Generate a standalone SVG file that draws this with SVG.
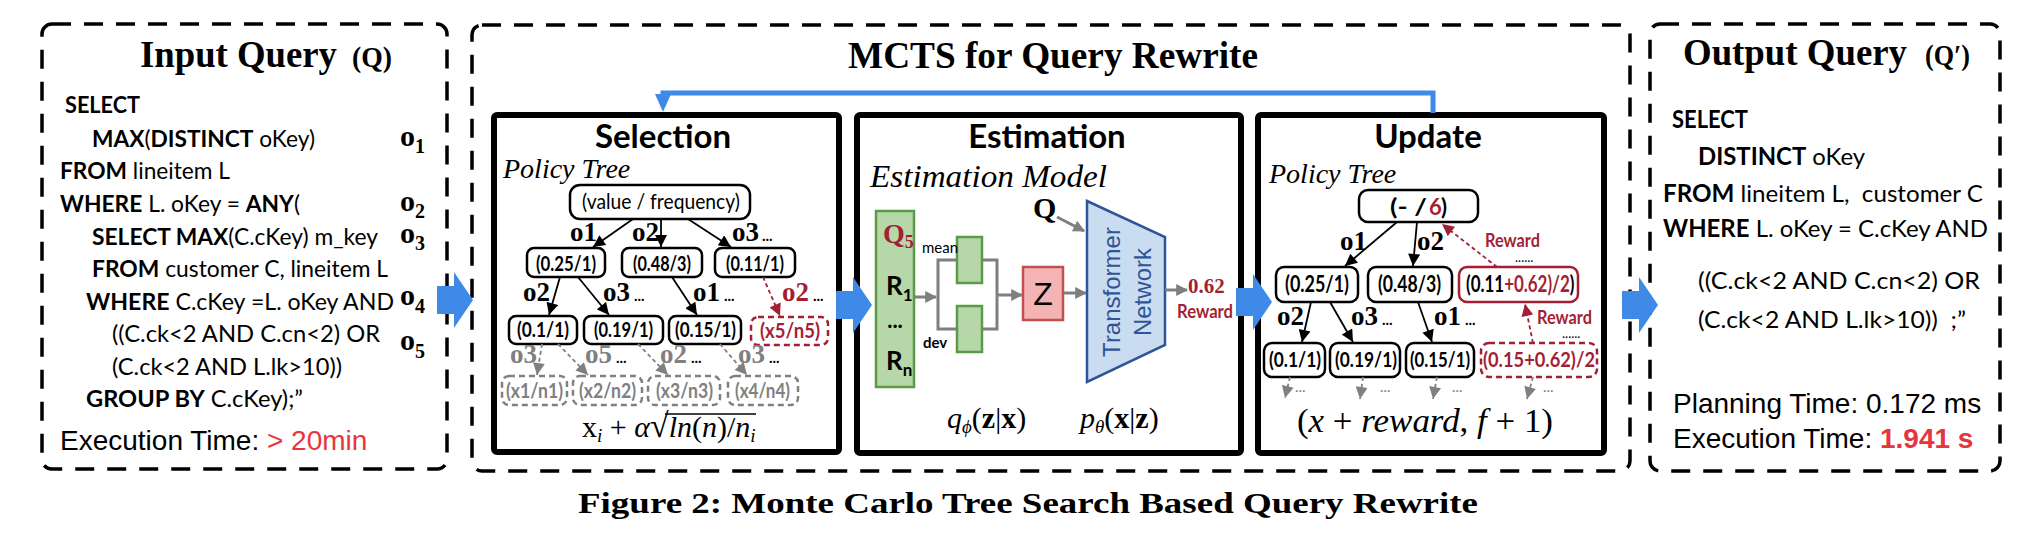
<svg xmlns="http://www.w3.org/2000/svg" width="2040" height="538" viewBox="0 0 2040 538">
<defs>
<style>
.dash{fill:none;stroke:#000;stroke-width:3.5;stroke-dasharray:19 13}
.panel{fill:#fff;stroke:#000;stroke-width:6}
.sql{font-family:Lato,"Open Sans",sans-serif;font-size:23px;fill:#000;white-space:pre}
.sqo{font-family:Lato,"Open Sans",sans-serif;font-size:24px;fill:#000;white-space:pre}
.b{font-weight:bold}
.ttl{font-family:"Liberation Serif",serif;font-weight:bold;font-size:38px}
.ol{font-family:"Liberation Serif",serif;font-weight:bold;font-size:30px}
.sub{font-size:20px}
.ph{font-family:Lato,sans-serif;font-weight:bold;font-size:33px;text-anchor:middle}
.it{font-family:"Liberation Serif",serif;font-style:italic;font-size:28px}
.node{fill:#fff;stroke:#000;stroke-width:2.5}
.rnode{fill:#fff;stroke:#a31f34;stroke-width:2.5}
.rdnode{fill:#fff;stroke:#a31f34;stroke-width:2.5;stroke-dasharray:6 4}
.gnode{fill:#fff;stroke:#808080;stroke-width:2.5;stroke-dasharray:6 4}
.nt{font-family:Lato,sans-serif;font-weight:bold;font-size:21px}
.lab{font-family:"Liberation Serif",serif;font-weight:bold;font-size:27px}
.dots{font-family:Lato,sans-serif;font-size:15px}
.rw{font-family:Lato,sans-serif;font-weight:bold;font-size:18px;fill:#a31f34}
.e{stroke:#000;stroke-width:1.8;fill:none;marker-end:url(#ah)}
.ge{stroke:#808080;stroke-width:1.8;fill:none;stroke-dasharray:4 3;marker-end:url(#ahg)}
.re{stroke:#a31f34;stroke-width:1.8;fill:none;stroke-dasharray:4 3;marker-end:url(#ahr)}
.gc{stroke:#7f7f7f;stroke-width:3;fill:none}
.gca{stroke:#7f7f7f;stroke-width:3;fill:none;marker-end:url(#ahgb)}
.red{fill:#a31f34}
.gray{fill:#808080}
.blk{fill:#3f8ae6}
.math{font-family:"Liberation Serif",serif;font-size:30px}
.tm{font-family:"Liberation Sans",Arial,sans-serif;font-size:28px}
</style>
<marker id="ah" viewBox="0 0 10 10" refX="10" refY="5" markerUnits="userSpaceOnUse" markerWidth="13" markerHeight="12" orient="auto"><path d="M0,0 L10,5 L0,10 z" fill="#000"/></marker>
<marker id="ahg" viewBox="0 0 10 10" refX="10" refY="5" markerUnits="userSpaceOnUse" markerWidth="13" markerHeight="12" orient="auto"><path d="M0,0 L10,5 L0,10 z" fill="#808080"/></marker>
<marker id="ahr" viewBox="0 0 10 10" refX="10" refY="5" markerUnits="userSpaceOnUse" markerWidth="13" markerHeight="12" orient="auto"><path d="M0,0 L10,5 L0,10 z" fill="#a31f34"/></marker>
<marker id="ahgb" viewBox="0 0 10 10" refX="9" refY="5" markerUnits="userSpaceOnUse" markerWidth="12" markerHeight="12" orient="auto"><path d="M0,0 L10,5 L0,10 z" fill="#7f7f7f"/></marker>
<path id="bigarrow" d="M0,-14 L17,-14 L17,-28 L36,0 L17,28 L17,14 L0,14 z"/>
</defs>
<rect width="2040" height="538" fill="#fff"/>

<!-- Input query -->
<g id="input-query">
<rect class="dash" x="42" y="24" width="405" height="445" rx="10"/>
<text class="ttl" x="140" y="67" textLength="197" lengthAdjust="spacingAndGlyphs">Input Query</text>
<text class="ttl" x="352" y="67" style="font-size:30px" textLength="40" lengthAdjust="spacingAndGlyphs">(Q)</text>
<text class="sql" x="65" y="113" textLength="75" lengthAdjust="spacingAndGlyphs"><tspan class="b">SELECT</tspan></text>
<text class="sql" x="92" y="147" textLength="223" lengthAdjust="spacingAndGlyphs"><tspan class="b">MAX</tspan>(<tspan class="b">DISTINCT</tspan> oKey)</text>
<text class="sql" x="60" y="179" textLength="170" lengthAdjust="spacingAndGlyphs"><tspan class="b">FROM</tspan> lineitem L</text>
<text class="sql" x="60" y="212" textLength="240" lengthAdjust="spacingAndGlyphs"><tspan class="b">WHERE</tspan> L. oKey = <tspan class="b">ANY</tspan>(</text>
<text class="sql" x="92" y="245" textLength="286" lengthAdjust="spacingAndGlyphs"><tspan class="b">SELECT MAX</tspan>(C.cKey) m_key</text>
<text class="sql" x="92" y="277" textLength="296" lengthAdjust="spacingAndGlyphs"><tspan class="b">FROM</tspan> customer C, lineitem L</text>
<text class="sql" x="86" y="310" textLength="308" lengthAdjust="spacingAndGlyphs"><tspan class="b">WHERE</tspan> C.cKey =L. oKey AND</text>
<text class="sql" x="112" y="342" textLength="268" lengthAdjust="spacingAndGlyphs">((C.ck&lt;2 AND C.cn&lt;2) OR</text>
<text class="sql" x="112" y="375" textLength="230" lengthAdjust="spacingAndGlyphs">(C.ck&lt;2 AND L.lk&gt;10))</text>
<text class="sql" x="86" y="407" textLength="217" lengthAdjust="spacingAndGlyphs"><tspan class="b">GROUP BY</tspan> C.cKey);”</text>
<text class="ol" x="400" y="146">o<tspan class="sub" dy="7">1</tspan></text>
<text class="ol" x="400" y="211">o<tspan class="sub" dy="7">2</tspan></text>
<text class="ol" x="400" y="243">o<tspan class="sub" dy="7">3</tspan></text>
<text class="ol" x="400" y="305">o<tspan class="sub" dy="8">4</tspan></text>
<text class="ol" x="400" y="350">o<tspan class="sub" dy="8">5</tspan></text>
<text class="tm" x="60" y="450">Execution Time: <tspan fill="#e8353d">&gt; 20min</tspan></text>
</g>

<!-- MCTS container -->
<g id="mcts">
<rect class="dash" x="472" y="25" width="1158" height="446" rx="10"/>
<text class="ttl" x="848" y="68" textLength="410" lengthAdjust="spacingAndGlyphs">MCTS for Query Rewrite</text>
</g>

<!-- Selection -->
<g id="selection">
<rect class="panel" x="494" y="115" width="345" height="337" rx="3"/>
<text class="ph" x="663" y="148">Selection</text>
<text class="it" x="503" y="178">Policy Tree</text>
<rect class="node" x="570" y="185" width="180" height="34" rx="10"/>
<text x="582" y="209" style="font-family:Lato,sans-serif;font-size:22px" textLength="158" lengthAdjust="spacingAndGlyphs">(value / frequency)</text>
<rect class="node" x="527" y="248" width="78" height="29" rx="7"/>
<text class="nt" x="536" y="271" textLength="60" lengthAdjust="spacingAndGlyphs">(0.25/1)</text>
<rect class="node" x="622" y="248" width="80" height="29" rx="7"/>
<text class="nt" x="633" y="271" textLength="58" lengthAdjust="spacingAndGlyphs">(0.48/3)</text>
<rect class="node" x="715" y="248" width="80" height="29" rx="7"/>
<text class="nt" x="726" y="271" textLength="58" lengthAdjust="spacingAndGlyphs">(0.11/1)</text>
<rect class="node" x="509" y="316" width="68" height="28" rx="7"/>
<text class="nt" x="517" y="337" textLength="52" lengthAdjust="spacingAndGlyphs">(0.1/1)</text>
<rect class="node" x="584" y="316" width="79" height="28" rx="7"/>
<text class="nt" x="594" y="337" textLength="59" lengthAdjust="spacingAndGlyphs">(0.19/1)</text>
<rect class="node" x="669" y="316" width="72" height="28" rx="7"/>
<text class="nt" x="675" y="337" textLength="61" lengthAdjust="spacingAndGlyphs">(0.15/1)</text>
<rect class="rdnode" x="751" y="317" width="77" height="28" rx="7"/>
<text class="nt red" x="760" y="338" textLength="60" lengthAdjust="spacingAndGlyphs">(x5/n5)</text>
<rect class="gnode" x="502" y="376" width="65" height="29" rx="7"/>
<text class="nt gray" x="506" y="398" textLength="57" lengthAdjust="spacingAndGlyphs">(x1/n1)</text>
<rect class="gnode" x="573" y="376" width="69" height="29" rx="7"/>
<text class="nt gray" x="579" y="398" textLength="57" lengthAdjust="spacingAndGlyphs">(x2/n2)</text>
<rect class="gnode" x="648" y="376" width="72" height="29" rx="7"/>
<text class="nt gray" x="656" y="398" textLength="57" lengthAdjust="spacingAndGlyphs">(x3/n3)</text>
<rect class="gnode" x="728" y="376" width="70" height="29" rx="7"/>
<text class="nt gray" x="735" y="398" textLength="55" lengthAdjust="spacingAndGlyphs">(x4/n4)</text>
<text class="lab" x="570" y="241">o1</text>
<text class="lab" x="632" y="241">o2</text>
<text class="lab" x="732" y="241">o3<tspan class="dots" dx="3">...</tspan></text>
<text class="lab" x="523" y="301">o2</text>
<text class="lab" x="603" y="301">o3<tspan class="dots" dx="4">...</tspan></text>
<text class="lab" x="693" y="301">o1<tspan class="dots" dx="4">...</tspan></text>
<text class="lab red" x="782" y="301">o2<tspan class="dots" dx="4" fill="#000">...</tspan></text>
<text class="lab gray" x="510" y="363">o3</text>
<text class="lab gray" x="585" y="363">o5<tspan class="dots" dx="4" fill="#000">...</tspan></text>
<text class="lab gray" x="660" y="363">o2<tspan class="dots" dx="4" fill="#000">...</tspan></text>
<text class="lab gray" x="738" y="363">o3<tspan class="dots" dx="4" fill="#000">...</tspan></text>
<text class="math" x="582" y="437">x<tspan font-size="19" dy="5" font-style="italic">i</tspan><tspan dy="-5"> + </tspan><tspan font-style="italic">α</tspan><tspan font-size="34">√</tspan><tspan font-style="italic">ln</tspan>(<tspan font-style="italic">n</tspan>)/<tspan font-style="italic">n</tspan><tspan font-size="19" dy="5" font-style="italic">i</tspan></text>
<line x1="665" y1="414" x2="756" y2="414" stroke="#000" stroke-width="1.5"/>
</g>

<!-- Estimation -->
<g id="estimation">
<rect class="panel" x="857" y="115" width="384" height="338" rx="3"/>
<text class="ph" x="1047" y="148">Estimation</text>
<text class="it" x="870" y="187" textLength="237" lengthAdjust="spacingAndGlyphs" style="font-size:31px">Estimation Model</text>
<rect x="876" y="211" width="38" height="176" fill="#b6d7a8" stroke="#5b9a47" stroke-width="2.5"/>
<text x="883" y="243" style="font-family:'Liberation Serif',serif;font-weight:bold;font-size:28px" fill="#a31f34">Q<tspan font-size="18" dy="5">5</tspan></text>
<text x="886" y="295" style="font-family:Lato,sans-serif;font-weight:bold;font-size:26px">R<tspan font-size="17" dy="6">1</tspan></text>
<text x="895" y="328" style="font-family:Lato,sans-serif;font-weight:bold;font-size:22px;text-anchor:middle">...</text>
<text x="886" y="370" style="font-family:Lato,sans-serif;font-weight:bold;font-size:26px">R<tspan font-size="17" dy="6">n</tspan></text>
<rect x="957" y="237" width="25" height="46" fill="#b6d7a8" stroke="#5b9a47" stroke-width="2.5"/>
<rect x="957" y="306" width="25" height="46" fill="#b6d7a8" stroke="#5b9a47" stroke-width="2.5"/>
<text x="922" y="253" style="font-family:Lato,sans-serif;font-size:15px">mean</text>
<text x="923" y="348" style="font-family:Lato,sans-serif;font-weight:bold;font-size:15px">dev</text>
<rect x="1023" y="267" width="40" height="53" fill="#f4b4b4" stroke="#c0504d" stroke-width="2.5"/>
<text x="1043" y="305" style="font-family:'Liberation Sans',sans-serif;font-size:32px;text-anchor:middle">Z</text>
<path d="M1087,201 L1165,237 L1165,345 L1087,382 z" fill="#cadcf0" stroke="#2e5597" stroke-width="2.5"/>
<text transform="translate(1120,292) rotate(-90)" style="font-family:'Liberation Sans',sans-serif;font-size:24px;text-anchor:middle" fill="#2e5597">Transformer</text>
<text transform="translate(1151,292) rotate(-90)" style="font-family:'Liberation Sans',sans-serif;font-size:24px;text-anchor:middle" fill="#2e5597">Network</text>
<text x="1033" y="218" style="font-family:'Liberation Serif',serif;font-weight:bold;font-size:30px">Q</text>
<text x="1188" y="293" style="font-family:'Liberation Serif',serif;font-weight:bold;font-size:21px" fill="#a31f34">0.62</text>
<text class="rw" x="1177" y="318" textLength="56" lengthAdjust="spacingAndGlyphs">Reward</text>
<text class="math" x="947" y="428"><tspan font-style="italic">q</tspan><tspan font-size="19" dy="5" font-style="italic">ϕ</tspan><tspan dy="-5">(</tspan><tspan font-weight="bold">z</tspan>|<tspan font-weight="bold">x</tspan>)</text>
<text class="math" x="1080" y="428"><tspan font-style="italic">p</tspan><tspan font-size="19" dy="5" font-style="italic">θ</tspan><tspan dy="-5">(</tspan><tspan font-weight="bold">x</tspan>|<tspan font-weight="bold">z</tspan>)</text>
</g>

<!-- Update -->
<g id="update">
<rect class="panel" x="1258" y="115" width="346" height="338" rx="3"/>
<text class="ph" x="1428" y="148">Update</text>
<text class="it" x="1269" y="183">Policy Tree</text>
<rect class="node" x="1359" y="190" width="119" height="32" rx="9"/>
<text class="nt" x="1390" y="215" style="font-size:22px" textLength="37" lengthAdjust="spacingAndGlyphs">(- / </text>
<text class="nt red" x="1429" y="215" style="font-size:22px">6</text>
<text class="nt" x="1441" y="215" style="font-size:22px">)</text>
<rect class="node" x="1276" y="267" width="82" height="35" rx="8"/>
<text class="nt" x="1285" y="292" style="font-size:22px" textLength="64" lengthAdjust="spacingAndGlyphs">(0.25/1)</text>
<rect class="node" x="1368" y="267" width="84" height="35" rx="8"/>
<text class="nt" x="1378" y="292" style="font-size:22px" textLength="63" lengthAdjust="spacingAndGlyphs">(0.48/3)</text>
<rect class="rnode" x="1459" y="267" width="119" height="35" rx="8"/>
<text class="nt" transform="matrix(0.77 0 0 1 1466 292)" style="font-size:22px">(0.11<tspan fill="#a31f34">+0.62)/2</tspan>)</text>
<rect class="node" x="1264" y="343" width="61" height="34" rx="8"/>
<text class="nt" x="1269" y="367" textLength="52" lengthAdjust="spacingAndGlyphs">(0.1/1)</text>
<rect class="node" x="1330" y="343" width="70" height="34" rx="8"/>
<text class="nt" x="1335" y="367" textLength="62" lengthAdjust="spacingAndGlyphs">(0.19/1)</text>
<rect class="node" x="1406" y="343" width="68" height="34" rx="8"/>
<text class="nt" x="1410" y="367" textLength="60" lengthAdjust="spacingAndGlyphs">(0.15/1)</text>
<rect class="rdnode" x="1481" y="343" width="116" height="34" rx="8"/>
<text class="nt red" x="1483" y="367" textLength="112" lengthAdjust="spacingAndGlyphs">(0.15+0.62)/2</text>
<text class="lab" x="1340" y="250">o1</text>
<text class="lab" x="1417" y="250">o2</text>
<text class="rw" x="1485" y="247" textLength="55" lengthAdjust="spacingAndGlyphs">Reward</text>
<text class="dots" x="1515" y="262" style="font-size:13px">......</text>
<text class="lab" x="1277" y="325">o2</text>
<text class="lab" x="1351" y="325">o3<tspan class="dots" dx="4">...</tspan></text>
<text class="lab" x="1434" y="325">o1<tspan class="dots" dx="4">...</tspan></text>
<text class="rw" x="1537" y="324" textLength="55" lengthAdjust="spacingAndGlyphs">Reward</text>
<text class="dots" x="1562" y="338" style="font-size:13px">......</text>
<text class="dots gray" x="1295" y="392">...</text>
<text class="dots gray" x="1380" y="392">...</text>
<text class="dots gray" x="1452" y="392">...</text>
<text class="dots gray" x="1543" y="392">...</text>
<text class="math" x="1297" y="432" style="font-size:34px" textLength="256" lengthAdjust="spacingAndGlyphs">(<tspan font-style="italic">x</tspan> + <tspan font-style="italic">reward</tspan>, <tspan font-style="italic">f</tspan> + 1)</text>
</g>

<!-- Output query -->
<g id="output-query">
<rect class="dash" x="1650" y="24" width="350" height="447" rx="10"/>
<text class="ttl" x="1683" y="65" textLength="224" lengthAdjust="spacingAndGlyphs">Output Query</text>
<text class="ttl" x="1925" y="65" style="font-size:30px" textLength="45" lengthAdjust="spacingAndGlyphs">(Q′)</text>
<text class="sqo" x="1672" y="128" textLength="76" lengthAdjust="spacingAndGlyphs"><tspan class="b">SELECT</tspan></text>
<text class="sqo" x="1698" y="165" textLength="167" lengthAdjust="spacingAndGlyphs"><tspan class="b">DISTINCT</tspan> oKey</text>
<text class="sqo" x="1663" y="202" textLength="320" lengthAdjust="spacingAndGlyphs"><tspan class="b">FROM</tspan> lineitem L,  customer C</text>
<text class="sqo" x="1663" y="237" textLength="325" lengthAdjust="spacingAndGlyphs"><tspan class="b">WHERE</tspan> L. oKey = C.cKey AND</text>
<text class="sqo" x="1698" y="289" textLength="282" lengthAdjust="spacingAndGlyphs">((C.ck&lt;2 AND C.cn&lt;2) OR</text>
<text class="sqo" x="1698" y="328" textLength="268" lengthAdjust="spacingAndGlyphs">(C.ck&lt;2 AND L.lk&gt;10))  ;”</text>
<text class="tm" x="1673" y="413">Planning Time: 0.172 ms</text>
<text class="tm" x="1673" y="448">Execution Time: <tspan font-weight="bold" fill="#e8353d">1.941 s</tspan></text>
</g>

<!-- Connectors -->
<g id="connectors">
<use href="#bigarrow" class="blk" x="437" y="300"/>
<use href="#bigarrow" class="blk" x="836" y="305"/>
<use href="#bigarrow" class="blk" x="1236" y="302"/>
<use href="#bigarrow" class="blk" x="1622" y="305"/>
<path d="M1433,113 V93 H663 V97" stroke="#3f8ae6" stroke-width="5" fill="none"/>
<polygon points="655,94 671,94 663,112" fill="#3f8ae6"/>
<!-- selection tree -->
<line class="e" x1="633" y1="219" x2="593" y2="247"/>
<line class="e" x1="661" y1="219" x2="661" y2="247"/>
<line class="e" x1="688" y1="219" x2="731" y2="247"/>
<line class="e" x1="560" y1="277" x2="549" y2="315"/>
<line class="e" x1="578" y1="277" x2="609" y2="315"/>
<line class="e" x1="672" y1="277" x2="697" y2="315"/>
<line class="re" x1="763" y1="277" x2="780" y2="316"/>
<line class="ge" x1="542" y1="344" x2="537" y2="375"/>
<line class="ge" x1="558" y1="344" x2="588" y2="375"/>
<line class="ge" x1="638" y1="344" x2="668" y2="375"/>
<line class="ge" x1="720" y1="344" x2="747" y2="375"/>
<!-- estimation -->
<line class="gca" x1="915" y1="297" x2="936" y2="297"/>
<path class="gc" d="M957,260 H938 V329 H957"/>
<path class="gc" d="M982,260 H997 V329 H982"/>
<line class="gca" x1="997" y1="295" x2="1022" y2="295"/>
<line class="gca" x1="1063" y1="293" x2="1086" y2="293"/>
<line class="gca" x1="1057" y1="217" x2="1084" y2="231"/>
<line class="gca" x1="1165" y1="290" x2="1187" y2="290"/>
<!-- update tree -->
<line class="e" x1="1397" y1="222" x2="1345" y2="266"/>
<line class="e" x1="1417" y1="222" x2="1413" y2="266"/>
<line class="re" x1="1497" y1="267" x2="1442" y2="224"/>
<line class="e" x1="1311" y1="302" x2="1302" y2="342"/>
<line class="e" x1="1330" y1="302" x2="1353" y2="342"/>
<line class="e" x1="1418" y1="302" x2="1432" y2="342"/>
<line class="re" x1="1533" y1="343" x2="1525" y2="304"/>
<line class="ge" x1="1290" y1="377" x2="1285" y2="398"/>
<line class="ge" x1="1363" y1="377" x2="1360" y2="399"/>
<line class="ge" x1="1437" y1="377" x2="1433" y2="399"/>
<line class="ge" x1="1533" y1="377" x2="1527" y2="399"/>
</g>

<text x="578" y="513" style="font-family:'Liberation Serif',serif;font-weight:bold;font-size:30px" textLength="900" lengthAdjust="spacingAndGlyphs">Figure 2: Monte Carlo Tree Search Based Query Rewrite</text>
</svg>
